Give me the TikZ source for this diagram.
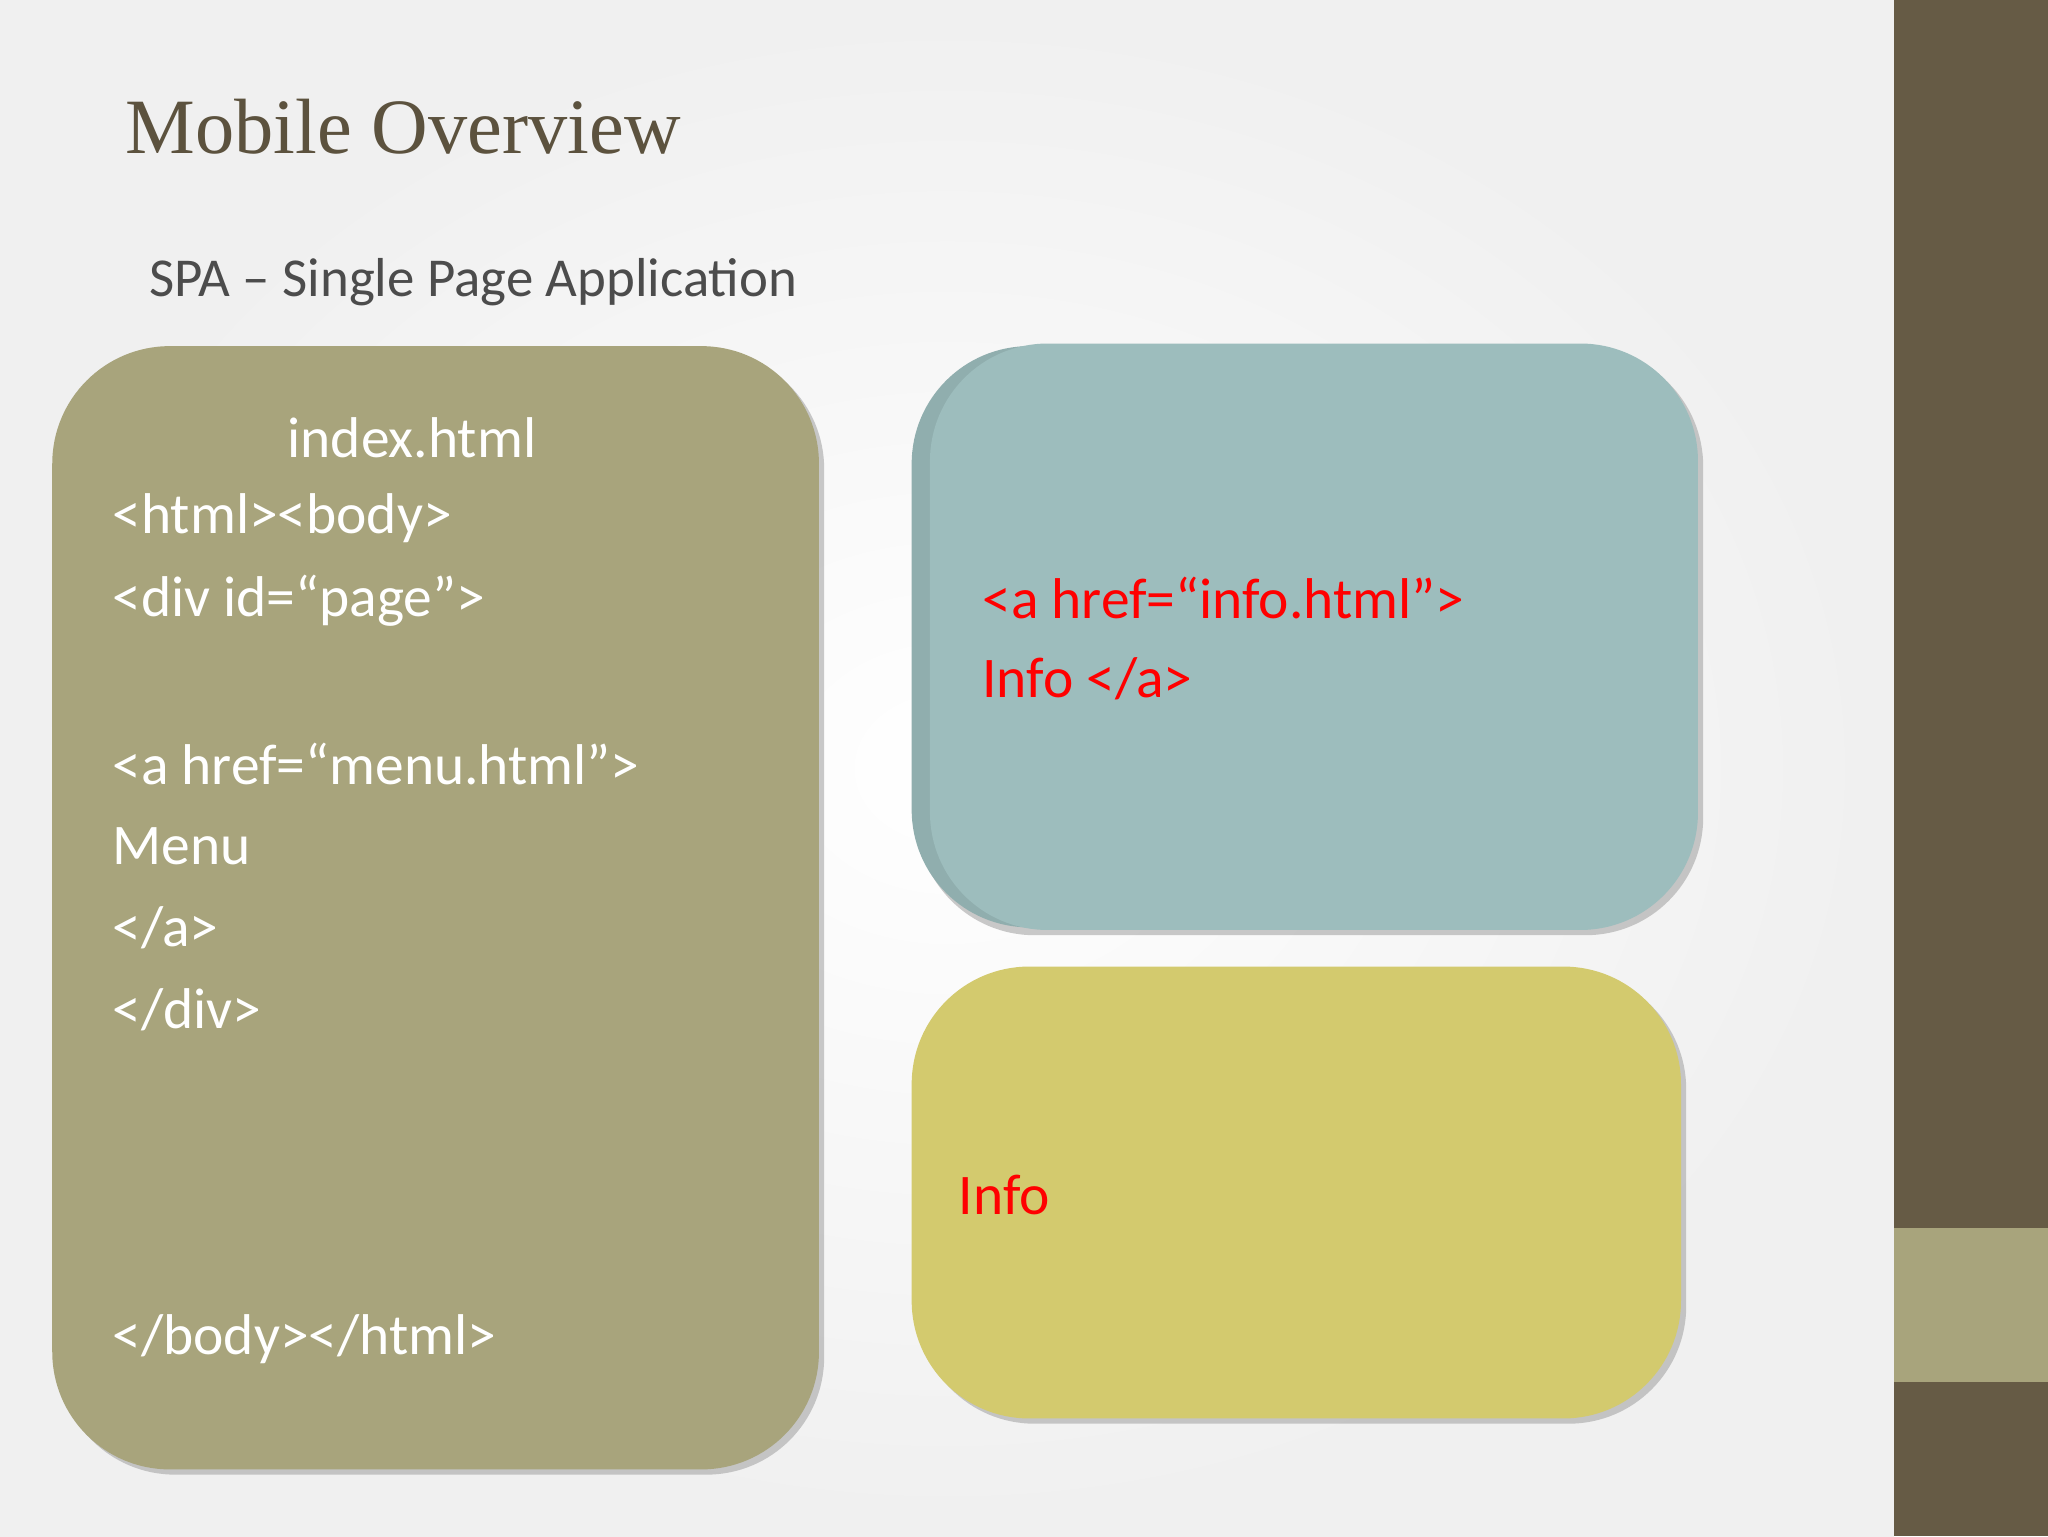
\documentclass[tikz,border=0pt]{standalone}
\usepackage{fontspec}
\setmainfont{Carlito}
\newfontfamily\titlefont{Liberation Serif}
\begin{document}
\begin{tikzpicture}[x=1pt,y=-1pt,
  card/.style={rounded corners=90pt,draw=none},
  shad/.style={rounded corners=90pt,fill=black!35,opacity=0.6},
  code/.style={anchor=west,text=white,font=\fontsize{44}{62}\selectfont,inner sep=0pt},
  red/.style={anchor=west,text=red,font=\fontsize{44}{62}\selectfont,inner sep=0pt,align=left}]
\definecolor{olive}{HTML}{A8A47C}
\definecolor{teal}{HTML}{9DBDBD}
\definecolor{yel}{HTML}{D3CA6E}
\definecolor{dark}{HTML}{665B45}
\useasboundingbox (0,0) rectangle (1568,1176);
\shade[inner color=white,outer color=black!6] (0,0) rectangle (1450,1176);
\fill[dark] (1450,0) rectangle (1568,1176);
\fill[olive] (1450,940) rectangle (1568,1058);
\node[anchor=west,text=dark!90!black,font=\titlefont\fontsize{60}{70}\selectfont,inner sep=0pt] (title) at (96,97) {Mobile Overview};
\node[anchor=west,text=black!70,font=\fontsize{42}{50}\selectfont,inner sep=0pt] (sub) at (114,216) {SPA – Single Page Application};
% olive
\fill[shad] (44,269) rectangle (631,1129);
\fill[olive,card] (40,265) rectangle (627,1125);
% blue
\fill[shad] (702,267) rectangle (1304,716);
\fill[teal!92!black,card] (698,265) rectangle (1290,710);
\fill[teal,card] (712,263) rectangle (1300,712);
% yellow
\fill[shad] (702,744) rectangle (1291,1090);
\fill[yel,card] (698,740) rectangle (1287,1086);
\node[code] (l0) at (220,335) {index.html};
\node[code] (l1) at (86,397) {<html><body>};
\node[code] (l2) at (86,460) {<div id=“page”>};
\node[code] (l3) at (86,585) {<a href=“menu.html”>};
\node[code] (l4) at (86,648) {Menu};
\node[code] (l5) at (86,710) {</a>};
\node[code] (l6) at (86,773) {</div>};
\node[code] (l7) at (86,1025) {</body></html>};
\node[red] (r1) at (752,458) {<a href=“info.html”>};
\node[red] (r2) at (752,520) {Info </a>};
\node[red] (r3) at (734,915) {Info};
\end{tikzpicture}
\end{document}
